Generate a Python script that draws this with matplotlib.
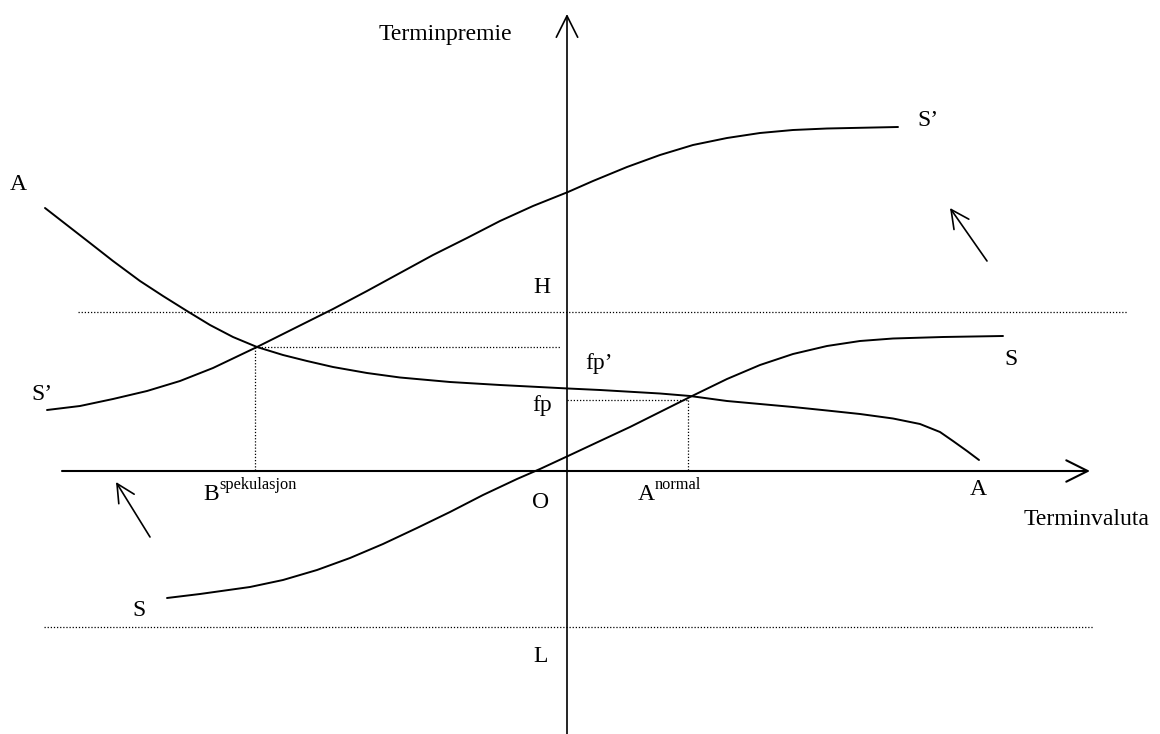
import matplotlib
matplotlib.use("Agg")
import matplotlib.pyplot as plt

# ---- data (in picture units: x right, y down) ----
a_curve_x = [45, 63, 90, 113, 140, 163, 187, 210, 233, 257, 283, 307, 333, 367, 400, 450, 500,
             568, 600, 660, 690, 727, 760, 793, 827, 860, 893, 920, 940, 953, 967, 979]
a_curve_y = [208, 222, 243, 261, 281, 296, 311, 325, 337, 347, 355, 361, 367, 373, 377.5, 382, 385,
             388.5, 390, 393.5, 396, 401, 404, 407, 410.5, 414, 418.5, 424, 432, 441, 451, 460]

s2_curve_x = [47, 80, 113, 147, 180, 213, 257, 297, 333, 367, 400, 433, 467, 500, 533, 568,
              593, 627, 660, 693, 727, 760, 793, 827, 898]
s2_curve_y = [410, 406, 399, 391, 381, 368, 347, 327, 309, 291, 273, 255, 238, 221, 206, 192,
              181, 167, 155, 145, 138, 133, 130, 128.5, 127]

s_curve_x = [167, 200, 250, 283, 317, 350, 383, 417, 450, 483, 517, 540, 568, 600, 630, 660,
             690, 727, 760, 793, 827, 860, 893, 943, 1003]
s_curve_y = [598, 594, 587, 580, 570, 558, 544, 528, 512, 495, 479, 469, 456, 441, 427, 412,
             397, 379, 365, 354, 346, 341, 338.5, 337, 336]

origin = (567, 471)
x_axis_span = (62, 1090)
y_axis_span = (734, 14)
level_H = 312
level_L = 627
H_span = (78, 1127)
L_span = (44, 1093)
spec_point = (255, 347)
normal_point = (688, 400)

# (text, x centre, baseline y)
labels = [
    ("Terminpremie", 445, 40),
    ("A", 18, 190),
    ("S\u2019", 42, 400),
    ("H", 542, 293),
    ("fp\u2019", 599, 369),
    ("fp", 542, 411),
    ("S\u2019", 928, 126),
    ("S", 1011, 365),
    ("O", 541, 508),
    ("A", 978, 495),
    ("Terminvaluta", 1087, 525),
    ("S", 139, 616),
    ("L", 541, 662),
]

fig = plt.figure(figsize=(11.6, 7.34), dpi=100)
ax = fig.add_axes([0, 0, 1, 1])
ax.set_xlim(0, 1160)
ax.set_ylim(734, 0)
ax.axis("off")

lw = 1.4
curve_style = dict(color="black", lw=lw, solid_capstyle="round", solid_joinstyle="round")
ax.plot(a_curve_x, a_curve_y, **curve_style)
ax.plot(s2_curve_x, s2_curve_y, **curve_style)
ax.plot(s_curve_x, s_curve_y, **curve_style)

# axes with open arrowheads
ax.annotate("", xy=(x_axis_span[1], origin[1]), xytext=(x_axis_span[0], origin[1]),
            arrowprops=dict(arrowstyle="->,head_length=1.1,head_width=0.55", lw=1.5,
                            color="black", shrinkA=0, shrinkB=0, mutation_scale=14))
ax.annotate("", xy=(origin[0], y_axis_span[1]), xytext=(origin[0], y_axis_span[0]),
            arrowprops=dict(arrowstyle="->,head_length=1.1,head_width=0.55", lw=1.2,
                            color="black", shrinkA=0, shrinkB=0, mutation_scale=14))

# dotted guide lines
dot = dict(color="black", lw=0.9, linestyle=(0, (1, 1.5)))
ax.plot(H_span, [level_H, level_H], **dot)
ax.plot(L_span, [level_L, level_L], **dot)
ax.plot([spec_point[0], origin[0] - 7], [spec_point[1], spec_point[1]], **dot)
ax.plot([spec_point[0], spec_point[0]], [spec_point[1], origin[1]], **dot)
ax.plot([origin[0], normal_point[0]], [normal_point[1], normal_point[1]], **dot)
ax.plot([normal_point[0], normal_point[0]], [normal_point[1], origin[1]], **dot)

# shift arrows
small = dict(arrowstyle="->,head_length=1.0,head_width=0.5", lw=1.2, color="black",
             shrinkA=0, shrinkB=0, mutation_scale=13)
ax.annotate("", xy=(950, 208), xytext=(987, 261), arrowprops=small)
ax.annotate("", xy=(116, 482), xytext=(150, 537), arrowprops=small)

font = "Liberation Serif"
fs = 17
for txt, x, y in labels:
    ax.text(x, y, txt, fontsize=fs, family=font, ha="center", va="baseline")

# labels with superscripts
sup_fs = 11.8
ax.text(203, 500, "B", fontsize=fs, family=font, ha="left", va="baseline")
ax.text(219, 489, "spekulasjon", fontsize=sup_fs, family=font, ha="left", va="baseline")
ax.text(638, 500, "A", fontsize=fs, family=font, ha="left", va="baseline")
ax.text(655, 489, "normal", fontsize=sup_fs, family=font, ha="left", va="baseline")

fig.savefig("out.png", dpi=100)
